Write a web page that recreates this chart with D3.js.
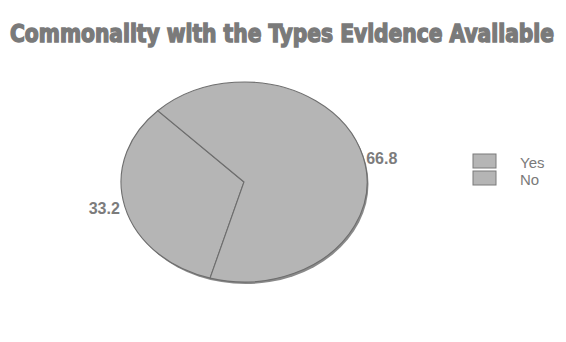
<!DOCTYPE html>
<html>
<head>
<meta charset="utf-8">
<script src="https://cdn.jsdelivr.net/npm/d3@7.9.0/dist/d3.min.js"></script>
<style>
  body { margin: 0; background: #fff; }
  svg { display: block; }
</style>
</head>
<body>
<div id="chart"></div>
<script>
// chart data
const categories = ['Yes', 'No'];
const values = [33.2, 66.8];
const title = 'Commonality with the Types Evidence Available';

const width = 566, height = 342;
const cx = 244, cy = 182, rx = 123, ry = 100;

const svg = d3.select('#chart').append('svg')
    .attr('width', width)
    .attr('height', height);

// title: condensed heavy face, stretched vertically to look like the original
svg.append('text')
    .attr('transform', 'translate(10,42) scale(1,1.3)')
    .attr('textLength', 544)
    .attr('lengthAdjust', 'spacingAndGlyphs')
    .style('font-family', 'DejaVu Sans Condensed, DejaVu Sans')
    .style('font-weight', 'bold')
    .style('font-size', '19px')
    .style('fill', '#7a7a7a')
    .style('stroke', '#7a7a7a')
    .style('stroke-width', 1.1)
    .text(title);

const data = categories.map((c, i) => ({ name: c, value: values[i] }));

// Yes slice starts near the bottom, going clockwise
const pie = d3.pie()
    .sort(null)
    .value(d => d.value)
    .startAngle(196 * Math.PI / 180)
    .endAngle(556 * Math.PI / 180);

const arcs = pie(data);
const arc = d3.arc().innerRadius(0).outerRadius(1);

const g = svg.append('g')
    .attr('transform', `translate(${cx},${cy})`);

// thin shadow edge
g.append('ellipse')
    .attr('cx', 1.5)
    .attr('cy', 2)
    .attr('rx', rx)
    .attr('ry', ry)
    .attr('fill', '#8a8a8a');

const slices = g.append('g')
    .attr('transform', `scale(${rx},${ry})`);

slices.selectAll('path')
    .data(arcs)
    .join('path')
    .attr('d', arc)
    .attr('fill', '#b5b5b5')
    .attr('stroke', '#6e6e6e')
    .attr('stroke-width', 1.1)
    .attr('vector-effect', 'non-scaling-stroke');

// value labels
g.selectAll('text.val')
    .data(arcs)
    .join('text')
    .attr('class', 'val')
    .attr('x', d => {
        const a = (d.startAngle + d.endAngle) / 2;
        const x = Math.sin(a) * rx;
        return x < 0 ? x - 5 : x + 3;
    })
    .attr('y', d => {
        const a = (d.startAngle + d.endAngle) / 2;
        return -Math.cos(a) * ry + 7;
    })
    .attr('text-anchor', d => Math.sin((d.startAngle + d.endAngle) / 2) < 0 ? 'end' : 'start')
    .style('font-family', 'Liberation Sans, Arial, sans-serif')
    .style('font-size', '16px')
    .style('font-weight', 'bold')
    .style('fill', '#7c7c7c')
    .text(d => d.data.value.toFixed(1));

// legend
const legend = svg.append('g')
    .attr('transform', 'translate(473,154)');

const item = legend.selectAll('g')
    .data(categories)
    .join('g')
    .attr('transform', (d, i) => `translate(0,${i * 17})`);

item.append('rect')
    .attr('width', 23)
    .attr('height', 14)
    .attr('fill', '#b5b5b5')
    .attr('stroke', '#7a7a7a')
    .attr('stroke-width', 1);

item.append('text')
    .attr('x', 47)
    .attr('y', 14)
    .style('font-family', 'Liberation Sans, Arial, sans-serif')
    .style('font-size', '15px')
    .style('fill', '#7a7a7a')
    .text(d => d);
</script>
</body>
</html>
